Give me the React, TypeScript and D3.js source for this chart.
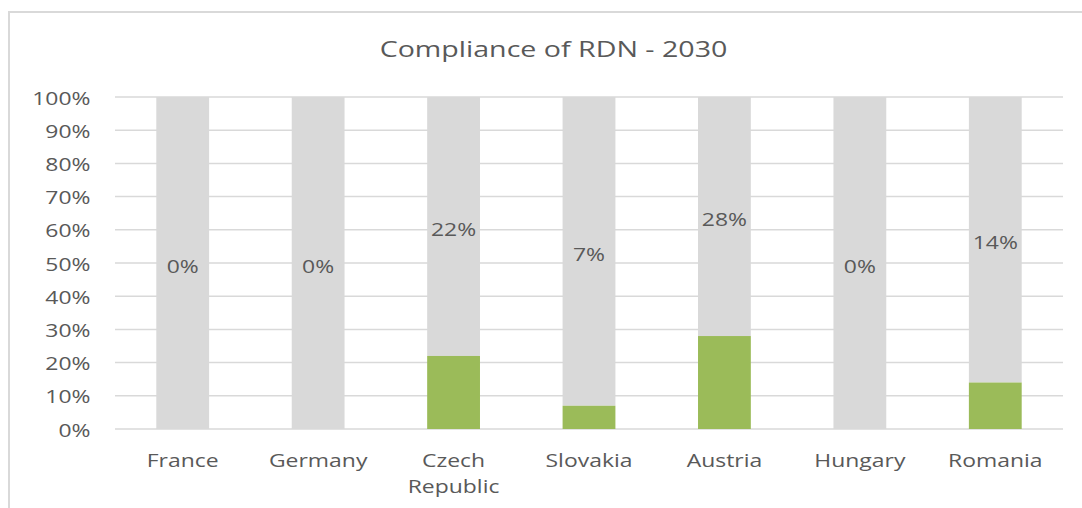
import React from "react";
import * as d3 from "d3";

const categories: string[][] = [
  ["France"],
  ["Germany"],
  ["Czech", "Republic"],
  ["Slovakia"],
  ["Austria"],
  ["Hungary"],
  ["Romania"],
];
const compliance: number[] = [0, 0, 0.22, 0.07, 0.28, 0, 0.14];
const labels: string[] = ["0%", "0%", "22%", "7%", "28%", "0%", "14%"];
const yTicks: number[] = [0, 0.1, 0.2, 0.3, 0.4, 0.5, 0.6, 0.7, 0.8, 0.9, 1];
const title = "Compliance of RDN - 2030";

const W = 1082;
const H = 508;
const plot = { left: 115, right: 1063, top: 97, bottom: 429 };
const FONT = "'Open Sans', sans-serif";
const TXT = "#595959";
const SX = 1.24;
const FS = 18.5;

export default function App() {
  const x = d3
    .scaleBand<number>()
    .domain(d3.range(categories.length))
    .range([plot.left, plot.right])
    .paddingInner(0.61)
    .paddingOuter(0.305);
  const y = d3.scaleLinear().domain([0, 1]).range([plot.bottom, plot.top]);
  const fmt = d3.format(".0%");

  return (
    <svg
      width={W}
      height={H}
      style={{ position: "absolute", left: 0, top: 0, background: "#fff" }}
    >
      <rect x={0} y={0} width={W} height={H} fill="#fff" />
      <rect
        x={9}
        y={12}
        width={W + 50}
        height={H + 50}
        fill="#fff"
        stroke="#d9d9d9"
        strokeWidth={2}
      />
      <text
        transform={`translate(553.5,57) scale(1.3,1)`}
        textAnchor="middle"
        fontFamily={FONT}
        fontSize={22}
        fill={TXT}
      >
        {title}
      </text>
      {yTicks.map((t) => (
        <g key={t}>
          <line
            x1={plot.left}
            x2={plot.right}
            y1={y(t)}
            y2={y(t)}
            stroke="#d9d9d9"
            strokeWidth={1.5}
          />
          <text
            transform={`translate(90.5,${y(t) + 7.5}) scale(${SX},1)`}
            textAnchor="end"
            fontFamily={FONT}
            fontSize={FS}
            fill={TXT}
          >
            {fmt(t)}
          </text>
        </g>
      ))}
      {compliance.map((v, i) => {
        const bx = x(i)!;
        const bw = x.bandwidth();
        return (
          <g key={i}>
            <rect
              x={bx}
              y={y(1)}
              width={bw}
              height={y(v) - y(1)}
              fill="#d9d9d9"
            />
            <rect
              x={bx}
              y={y(v)}
              width={bw}
              height={y(0) - y(v)}
              fill="#9bbb59"
            />
            <text
              transform={`translate(${bx + bw / 2},${y((v + 1) / 2) + 9.5}) scale(${SX},1)`}
              textAnchor="middle"
              fontFamily={FONT}
              fontSize={FS}
              fill={TXT}
            >
              {labels[i]}
            </text>
            {categories[i].map((line, j) => (
              <text
                key={j}
                transform={`translate(${bx + bw / 2},${467 + j * 26}) scale(${SX},1)`}
                textAnchor="middle"
                fontFamily={FONT}
                fontSize={FS}
                fill={TXT}
              >
                {line}
              </text>
            ))}
          </g>
        );
      })}
    </svg>
  );
}
